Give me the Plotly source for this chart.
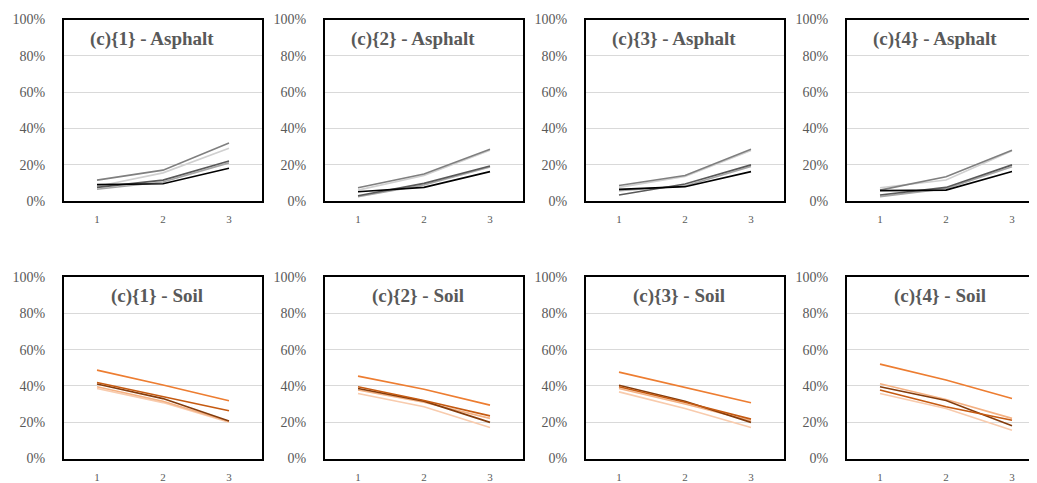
import plotly.graph_objects as go

W, H = 1037, 483
OFF = 8  # page body margin in the browser

categories = ["1", "2", "3"]
ytick_vals = [0, 0.2, 0.4, 0.6, 0.8, 1.0]

asphalt_titles = ["(c){1} - Asphalt", "(c){2} - Asphalt", "(c){3} - Asphalt", "(c){4} - Asphalt"]
soil_titles = ["(c){1} - Soil", "(c){2} - Soil", "(c){3} - Soil", "(c){4} - Soil"]

# Asphalt series (per panel), values in %
asph_darkgrey = [[11.5, 17.0, 32.0], [7.3, 14.9, 28.5], [8.5, 14.0, 28.5], [6.0, 13.4, 28.0]]
asph_lightgrey = [[8.0, 15.5, 29.0], [6.0, 14.0, 28.0], [7.5, 13.5, 27.8], [7.3, 11.6, 27.7]]
asph_black = [[9.0, 9.5, 18.0], [5.1, 7.5, 16.2], [6.4, 7.9, 16.2], [5.7, 6.0, 16.2]]
asph_midgrey = [[7.5, 11.5, 22.0], [2.9, 9.7, 19.3], [3.3, 9.4, 19.9], [3.3, 7.5, 19.9]]
asph_grey = [[6.5, 10.5, 21.0], [2.4, 8.8, 18.8], [5.7, 8.3, 19.0], [2.4, 6.8, 18.9]]

# Soil series (per panel), values in %
soil_orange = [[48.7, 40.5, 31.8], [45.4, 38.2, 29.4], [47.6, 39.0, 30.7], [52.0, 43.2, 33.1]]
soil_medium = [[41.9, 34.0, 26.3], [39.5, 32.0, 23.5], [39.5, 31.0, 21.7], [37.7, 28.5, 21.1]]
soil_dark = [[41.0, 33.0, 20.6], [38.6, 31.6, 19.9], [40.4, 31.5, 19.9], [39.5, 32.0, 18.0]]
soil_salmon = [[39.5, 31.5, 20.4], [37.7, 31.0, 22.1], [38.6, 30.0, 20.8], [41.2, 32.5, 22.1]]
soil_light = [[38.6, 30.8, 20.0], [35.8, 28.5, 17.1], [36.7, 27.5, 17.1], [35.8, 27.5, 15.6]]

asph_series = [
    (asph_grey, "#A6A6A6"),
    (asph_lightgrey, "#D0D0D0"),
    (asph_midgrey, "#595959"),
    (asph_darkgrey, "#7F7F7F"),
    (asph_black, "#000000"),
]
soil_series = [
    (soil_light, "#F8CBAD"),
    (soil_salmon, "#F4B183"),
    (soil_dark, "#843C0C"),
    (soil_medium, "#C55A11"),
    (soil_orange, "#ED7D31"),
]

fig = go.Figure()

# window-pixel geometry of the reference
lefts = [64, 325, 586, 847]
pw = 198
cat_w = pw / 3.0
rows = [(19.5, 201.0), (277.0, 458.5)]

font_fam = "Liberation Serif"
txt_col = "#595959"


def px_x(px):
    return (px - OFF) / W


def px_y(py):
    return 1 - (py - OFF) / H


idx = 0
for r, (top, bot) in enumerate(rows):
    for c in range(4):
        idx += 1
        xa = "x" if idx == 1 else f"x{idx}"
        ya = "y" if idx == 1 else f"y{idx}"
        left = lefts[c]
        right = min(left + pw, W + 0.0)
        xr_end = -0.5 + (right - left) / cat_w
        series = asph_series if r == 0 else soil_series
        for vals, col in series:
            fig.add_trace(go.Scatter(
                x=categories, y=[v / 100 for v in vals[c]], mode="lines",
                line=dict(color=col, width=1.6), xaxis=xa, yaxis=ya,
                showlegend=False, hoverinfo="skip"))
        last = (right >= W)
        xkey = "xaxis" if idx == 1 else f"xaxis{idx}"
        ykey = "yaxis" if idx == 1 else f"yaxis{idx}"
        fig.layout[xkey] = dict(
            domain=[px_x(left), min(px_x(right), 1.0)], anchor=ya, type="category",
            range=[-0.5, xr_end], showgrid=False, zeroline=False,
            showline=True, linecolor="#000000", linewidth=2, mirror=True,
            ticks="", tickfont=dict(family=font_fam, size=11, color=txt_col),
            ticklabelstandoff=7, fixedrange=True, automargin=False)
        fig.layout[ykey] = dict(
            domain=[px_y(bot), px_y(top)], anchor=xa,
            range=[0, 1], tickvals=ytick_vals, tickformat=".0%",
            showgrid=True, gridcolor="#D9D9D9", gridwidth=1, zeroline=False,
            showline=True, linecolor="#000000", linewidth=2,
            mirror=(False if last else True),
            ticks="", tickfont=dict(family=font_fam, size=14, color=txt_col),
            ticklabelstandoff=14, fixedrange=True, automargin=False)
        titles = asphalt_titles if r == 0 else soil_titles
        off = -11.5 if r == 0 else -6.0
        ty = 39 if r == 0 else 295.7
        fig.add_annotation(
            text="<b>" + titles[c] + "</b>", xref="paper", yref="paper",
            x=px_x(left + pw / 2 + off), y=px_y(ty), xanchor="center", yanchor="middle",
            showarrow=False, font=dict(family=font_fam, size=19, color=txt_col))

fig.update_layout(
    width=W, height=H, margin=dict(l=0, r=0, t=0, b=0, autoexpand=False),
    paper_bgcolor="white", plot_bgcolor="white", showlegend=False)

fig.write_html("out.html")
